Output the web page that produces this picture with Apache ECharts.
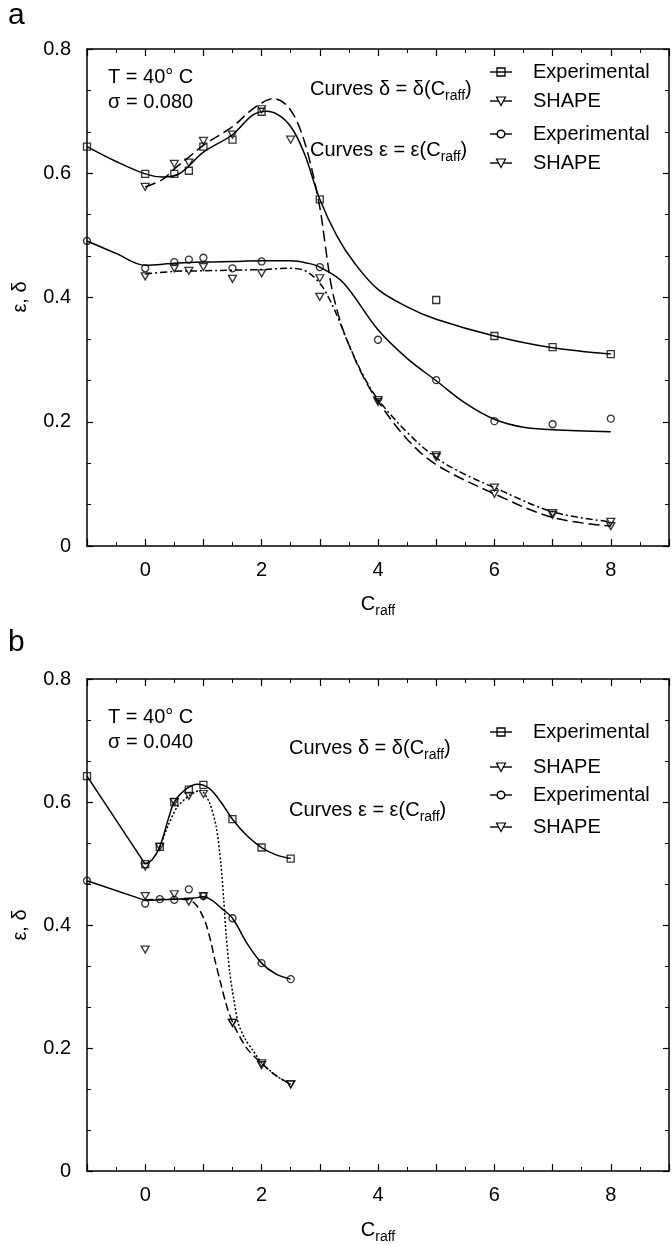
<!DOCTYPE html>
<html>
<head>
<meta charset="utf-8">
<script src="https://cdn.jsdelivr.net/npm/echarts/dist/echarts.min.js"></script>
<style>
  html, body { margin: 0; padding: 0; background: #fff; }
  #chart { width: 672px; height: 1246px; }
</style>
</head>
<body>
<div id="chart"></div>
<script>
// ---------- axis tick labels ----------
const xTickLabels = [0, 2, 4, 6, 8];
const yTickLabels = [0, 0.2, 0.4, 0.6, 0.8];

// ---------- panel a (sigma = 0.080): measured / simulated points ----------
const aDeltaExpX   = [-1, 0, 0.5, 0.75, 1, 1.5, 2, 3, 5, 6, 7, 8];
const aDeltaExpY   = [0.643, 0.599, 0.599, 0.604, 0.643, 0.654, 0.699, 0.558, 0.396, 0.338, 0.320, 0.309];
const aDeltaShapeX = [0, 0.5, 0.75, 1, 1.5, 2, 2.5, 3, 4, 5, 6, 7, 8];
const aDeltaShapeY = [0.578, 0.615, 0.617, 0.652, 0.662, 0.703, 0.654, 0.401, 0.235, 0.146, 0.094, 0.053, 0.039];
const aEpsExpX     = [-1, 0, 0.5, 0.75, 1, 1.5, 2, 3, 4, 5, 6, 7, 8];
const aEpsExpY     = [0.491, 0.447, 0.457, 0.461, 0.464, 0.447, 0.458, 0.449, 0.332, 0.267, 0.201, 0.196, 0.205];
const aEpsShapeX   = [0, 0.5, 0.75, 1, 1.5, 2, 3, 4, 5, 6, 7, 8];
const aEpsShapeY   = [0.434, 0.447, 0.443, 0.449, 0.430, 0.439, 0.431, 0.232, 0.143, 0.084, 0.050, 0.032];

// panel a fitted curves [Craff, value]
const aDeltaExpCurve = [[-1,0.643],[-0.5,0.619],[0,0.599],[0.3,0.594],[0.6,0.600],[1,0.634],
  [1.5,0.662],[1.85,0.694],[2.1,0.700],[2.35,0.690],[2.55,0.668],[2.75,0.628],[3,0.558],[3.3,0.498],
  [3.6,0.455],[4,0.413],[4.5,0.385],[5,0.365],[6,0.338],[7,0.319],[8,0.309]];
const aDeltaShapeCurve = [[0,0.578],[0.3,0.590],[0.5,0.607],[0.75,0.626],[1,0.645],[1.5,0.675],
  [1.8,0.700],[2,0.713],[2.2,0.720],[2.4,0.712],[2.6,0.685],[2.8,0.630],[3.0,0.545],[3.1,0.480],
  [3.2,0.418],[3.35,0.362],[3.5,0.324],[3.75,0.272],[4,0.233],[4.5,0.172],[5,0.131],[6,0.084],
  [7,0.046],[8,0.032]];
const aEpsExpCurve = [[-1,0.491],[-0.5,0.471],[0,0.452],[0.5,0.455],[1,0.457],[1.5,0.458],[2,0.459],
  [2.5,0.459],[2.8,0.455],[3,0.449],[3.4,0.424],[4,0.348],[4.5,0.302],[5,0.266],[5.5,0.230],[6,0.204],
  [6.5,0.191],[7,0.187],[8,0.184]];
const aEpsShapeCurve = [[0,0.438],[0.5,0.442],[1,0.443],[1.5,0.444],[2,0.445],[2.5,0.447],[2.75,0.443],
  [3.0,0.423],[3.15,0.400],[3.3,0.370],[3.5,0.324],[3.75,0.274],[4,0.236],[4.5,0.183],
  [5,0.142],[5.5,0.115],[6,0.094],[7,0.055],[8,0.039]];

// ---------- panel b (sigma = 0.040) ----------
const bDeltaExpX   = [-1, 0, 0.25, 0.5, 0.75, 1, 1.5, 2, 2.5];
const bDeltaExpY   = [0.642, 0.499, 0.527, 0.600, 0.620, 0.628, 0.572, 0.526, 0.508];
const bDeltaShapeX = [0, 0.25, 0.5, 0.75, 1, 1.5, 2, 2.5];
const bDeltaShapeY = [0.495, 0.527, 0.600, 0.610, 0.613, 0.241, 0.175, 0.141];
const bEpsExpX     = [-1, 0, 0.25, 0.5, 0.75, 1, 1.5, 2, 2.5];
const bEpsExpY     = [0.472, 0.435, 0.442, 0.441, 0.458, 0.447, 0.411, 0.338, 0.312];
const bEpsShapeX   = [0, 0, 0.5, 0.75, 1, 1.5, 2, 2.5];
const bEpsShapeY   = [0.447, 0.360, 0.450, 0.438, 0.447, 0.241, 0.172, 0.141];

// straight joins from the reference state, then fitted curves
const bDeltaLead = [[-1,0.642],[0,0.499]];
const bEpsLead   = [[-1,0.472],[0,0.440]];
const bDeltaExpCurve = [[0,0.499],[0.12,0.506],[0.25,0.527],[0.4,0.573],[0.5,0.600],[0.7,0.621],
  [0.9,0.629],[1.1,0.622],[1.3,0.600],[1.5,0.572],[1.75,0.545],[2,0.526],[2.25,0.514],[2.5,0.508]];
const bDeltaShapeCurve = [[0.25,0.527],[0.4,0.563],[0.55,0.592],[0.75,0.610],[0.95,0.619],
  [1.1,0.600],[1.22,0.560],[1.3,0.500],[1.35,0.440],[1.39,0.385],[1.45,0.325],[1.52,0.280],[1.6,0.240],
  [1.72,0.214],[1.85,0.196],[2,0.176],[2.25,0.155],[2.5,0.141]];
const bEpsExpCurve = [[0,0.440],[0.5,0.442],[0.8,0.443],[1,0.446],[1.15,0.440],[1.3,0.428],[1.5,0.411],
  [1.75,0.370],[2,0.338],[2.25,0.320],[2.5,0.312]];
const bEpsShapeCurve = [[0,0.441],[0.5,0.442],[0.75,0.441],[0.88,0.432],[0.97,0.418],[1.05,0.400],
  [1.13,0.372],[1.2,0.342],[1.29,0.308],[1.42,0.262],[1.55,0.232],[1.75,0.199],[2,0.175],[2.25,0.155],[2.5,0.141]];

// ---------- drawing ----------
const FONT = '"Liberation Sans", Arial, Helvetica, sans-serif';
const INK = '#000';
const grids = [
  { left: 87, top: 49, width: 583, height: 497 },
  { left: 87, top: 679, width: 583, height: 492 }
];

function axisCommon(g) {
  return {
    gridIndex: g, type: 'value',
    axisLine: { show: true, onZero: false, lineStyle: { color: INK, width: 1.5 } },
    axisTick: { show: true, inside: true, length: 7, lineStyle: { color: INK, width: 1.2 } },
    splitLine: { show: false }
  };
}
function xAxisPair(g) {
  const base = Object.assign(axisCommon(g), {
    min: -1, max: 9, interval: 1,
    minorTick: { show: true, splitNumber: 2, length: 4, lineStyle: { color: INK, width: 1 } }
  });
  return [
    Object.assign({}, base, { position: 'bottom', axisLabel: {
      show: true, margin: 14, fontSize: 20, fontFamily: FONT, color: INK,
      formatter: v => (xTickLabels.indexOf(Math.round(v * 100) / 100) >= 0 ? String(Math.round(v)) : '') } }),
    Object.assign({}, base, { position: 'top', axisLabel: { show: false } })
  ];
}
function yAxisPair(g) {
  const base = Object.assign(axisCommon(g), {
    min: 0, max: 0.8, interval: 0.2,
    axisTick: { show: true, inside: true, length: 6, lineStyle: { color: INK, width: 1.2 } },
    minorTick: { show: true, splitNumber: 3, length: 4, lineStyle: { color: INK, width: 1 } }
  });
  return [
    Object.assign({}, base, { position: 'left', axisLabel: {
      show: true, margin: 16, fontSize: 20, fontFamily: FONT, color: INK,
      formatter: v => { const t = yTickLabels.find(k => Math.abs(k - v) < 1e-6); return t === undefined ? '' : String(t); } } }),
    Object.assign({}, base, { position: 'right', axisLabel: { show: false } })
  ];
}

function curve(g, pts, dash, smooth) {
  return {
    type: 'line', xAxisIndex: 2 * g, yAxisIndex: 2 * g, data: pts,
    showSymbol: false, symbol: 'none', smooth: smooth === undefined ? 0.35 : smooth,
    silent: true, z: 2,
    lineStyle: { color: INK, width: 1.5, type: dash }
  };
}
function marks(g, xs, ys, shape) {
  const s = {
    type: 'scatter', xAxisIndex: 2 * g, yAxisIndex: 2 * g,
    data: xs.map((x, i) => [x, ys[i]]), silent: true, z: 3,
    itemStyle: { color: 'rgba(255,255,255,0)', borderColor: INK, borderWidth: 1.3 }
  };
  if (shape === 'square') { s.symbol = 'rect'; s.symbolSize = 7; }
  if (shape === 'circle') { s.symbol = 'circle'; s.symbolSize = 7; }
  if (shape === 'tri') { s.symbol = 'triangle'; s.symbolSize = [8, 7]; s.symbolRotate = 180; }
  return s;
}

const series = [
  curve(0, aDeltaExpCurve, 'solid'),
  curve(0, aDeltaShapeCurve, [11, 5]),
  curve(0, aEpsExpCurve, 'solid'),
  curve(0, aEpsShapeCurve, [7, 3, 2, 3]),
  marks(0, aDeltaExpX, aDeltaExpY, 'square'),
  marks(0, aDeltaShapeX, aDeltaShapeY, 'tri'),
  marks(0, aEpsExpX, aEpsExpY, 'circle'),
  marks(0, aEpsShapeX, aEpsShapeY, 'tri'),

  curve(1, bDeltaLead, 'solid', false),
  curve(1, bEpsLead, 'solid', false),
  curve(1, bDeltaExpCurve, 'solid'),
  curve(1, bDeltaShapeCurve, [2, 2], 0.25),
  curve(1, bEpsExpCurve, 'solid'),
  curve(1, bEpsShapeCurve, [8, 4], 0.3),
  marks(1, bDeltaExpX, bDeltaExpY, 'square'),
  marks(1, bDeltaShapeX, bDeltaShapeY, 'tri'),
  marks(1, bEpsExpX, bEpsExpY, 'circle'),
  marks(1, bEpsShapeX, bEpsShapeY, 'tri')
];

// ---------- text and keys ----------
const RICH = {
  m: { fontSize: 20, fontFamily: FONT, color: INK },
  s: { fontSize: 14, fontFamily: FONT, color: INK, padding: [14, 0, 0, 0] }
};
function txt(x, y, text, opts) {
  return {
    type: 'text', x: x, y: y, silent: true,
    style: Object.assign({ text: text, rich: RICH, fill: INK, fontSize: 20, fontFamily: FONT,
      align: 'left', verticalAlign: 'middle' }, opts || {})
  };
}
function keyRow(y, kind, label) {
  const cx = 501;
  const els = [{ type: 'line', silent: true, shape: { x1: cx - 11, y1: y, x2: cx + 11, y2: y },
    style: { stroke: INK, lineWidth: 1.4 } }];
  if (kind === 'square') els.push({ type: 'rect', silent: true, shape: { x: cx - 4, y: y - 4, width: 8, height: 8 },
    style: { fill: 'rgba(255,255,255,0)', stroke: INK, lineWidth: 1.3 } });
  if (kind === 'circle') els.push({ type: 'circle', silent: true, shape: { cx: cx, cy: y, r: 3.8 },
    style: { fill: '#fff', stroke: INK, lineWidth: 1.5 } });
  if (kind === 'tri') els.push({ type: 'polygon', silent: true,
    shape: { points: [[cx - 4.5, y - 4], [cx + 4.5, y - 4], [cx, y + 4.5]] },
    style: { fill: '#fff', stroke: INK, lineWidth: 1.2 } });
  els.push(txt(533, y, label));
  return els;
}

const graphic = [].concat(
  [
    txt(8, 16, 'a', { fontSize: 30 }),
    txt(8, 643, 'b', { fontSize: 30 }),
    // panel a annotations
    txt(108, 77, 'T = 40° C'),
    txt(108, 102, 'σ = 0.080'),
    txt(310, 89, '{m|Curves δ = δ(C}{s|raff}{m|)}'),
    txt(310, 150, '{m|Curves ε = ε(C}{s|raff}{m|)}'),
    // panel b annotations
    txt(108, 717, 'T = 40° C'),
    txt(108, 742, 'σ = 0.040'),
    txt(289, 748, '{m|Curves δ = δ(C}{s|raff}{m|)}'),
    txt(289, 810, '{m|Curves ε = ε(C}{s|raff}{m|)}'),
    // axis titles
    txt(378, 604, '{m|C}{s|raff}', { align: 'center' }),
    txt(378, 1230, '{m|C}{s|raff}', { align: 'center' }),
    Object.assign(txt(20, 297, 'ε, δ', { align: 'center' }), { rotation: Math.PI / 2 }),
    Object.assign(txt(20, 925, 'ε, δ', { align: 'center' }), { rotation: Math.PI / 2 })
  ],
  keyRow(72, 'square', 'Experimental'),
  keyRow(101, 'tri', 'SHAPE'),
  keyRow(134, 'circle', 'Experimental'),
  keyRow(163, 'tri', 'SHAPE'),
  keyRow(732, 'square', 'Experimental'),
  keyRow(767, 'tri', 'SHAPE'),
  keyRow(795, 'circle', 'Experimental'),
  keyRow(827, 'tri', 'SHAPE')
);

const chart = echarts.init(document.getElementById('chart'), null, { renderer: 'canvas' });
chart.setOption({
  backgroundColor: '#fff',
  animation: false,
  grid: grids,
  xAxis: [].concat(xAxisPair(0), xAxisPair(1)),
  yAxis: [].concat(yAxisPair(0), yAxisPair(1)),
  series: series,
  graphic: graphic
});
</script>
</body>
</html>
